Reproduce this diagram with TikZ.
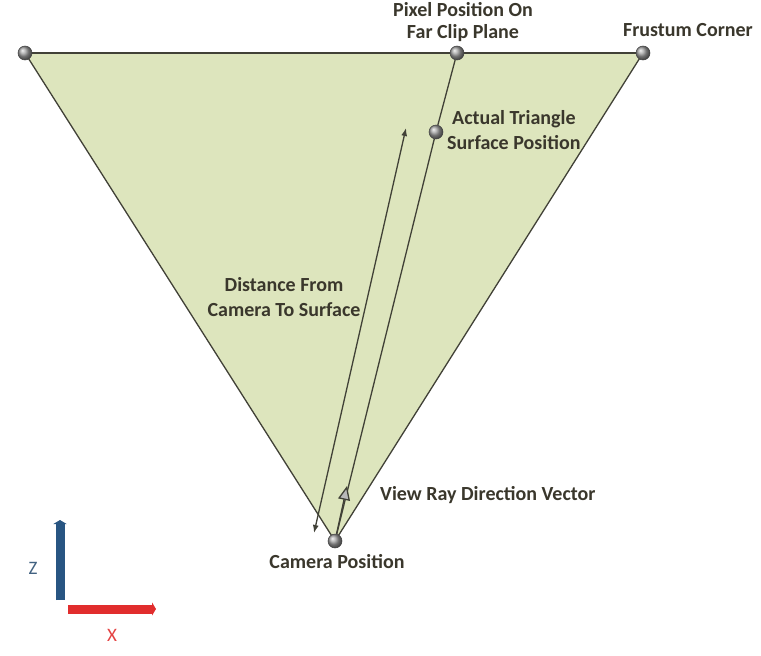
\documentclass[tikz,border=0pt]{standalone}
\usepackage{fontspec}
\setmainfont{Carlito}
\usetikzlibrary{arrows.meta}
\definecolor{frustfill}{RGB}{221,229,189}
\definecolor{edgecol}{RGB}{65,65,55}
\definecolor{txtcol}{RGB}{58,55,44}
\definecolor{zblue}{RGB}{40,85,130}
\definecolor{xred}{RGB}{225,45,45}
\tikzset{
  x=1pt, y=-1pt,
  ballpt/.style={circle, minimum size=14pt, inner sep=0pt, ball color=gray!75, draw=gray!50!black, line width=0.5pt},
  lbl/.style={text=txtcol, font=\bfseries\fontsize{20}{24.5}\selectfont, inner sep=0pt, align=center},
  edge/.style={draw=edgecol, line width=1.3pt},
}
\begin{document}
\begin{tikzpicture}
\useasboundingbox[fill=white] (0,0) rectangle (761,656);
% frustum
\coordinate (L) at (25,53);
\coordinate (R) at (643,53);
\coordinate (C) at (335,541);
\fill[frustfill] (L) -- (R) -- (C) -- cycle;
\draw[edge] (L) -- (R);
\draw[edge] (L) -- (C);
\draw[edge] (R) -- (C);
% points
\node[ballpt] (lc) at (L) {};
\node[ballpt] (fc) at (R) {};
\node[ballpt] (pp) at (457,53) {};
\node[ballpt] (cam) at (C) {};
\node[ballpt] (sp) at (436,132) {};
% view ray line
\draw[edge] (cam) -- (sp);
\draw[edge] (sp) -- (pp);
% view ray direction vector
\coordinate (vt) at (347,486);
\draw[edge, -{Triangle[length=14pt,width=12pt,fill=gray!55]}] (cam) -- (vt);
% distance arrow
\coordinate (d1) at (314,533);
\coordinate (d2) at (406,128);
\draw[edge, {Latex[length=8pt,width=6pt]}-{Latex[length=8pt,width=6pt]}] (d1) -- (d2);
% labels
\node[lbl] (tpp) at (463,22) {Pixel Position On\\[-3pt]Far Clip Plane};
\node[lbl] (tfc) at (688,30) {Frustum Corner};
\node[lbl, anchor=west] (tsp) at (447,130) {Actual Triangle\\Surface Position};
\node[lbl] (tdist) at (284,297) {Distance From\\Camera To Surface};
\node[lbl, anchor=west] (tvr) at (380,495) {View Ray Direction Vector};
\node[lbl] (tcam) at (337,562) {Camera Position};
% axes
\coordinate (o) at (60,600);
\coordinate (zt) at (60,520);
\coordinate (xs) at (68,609);
\coordinate (xt) at (156,609);
\draw[zblue, line width=9pt, -{Triangle[length=4pt,width=13pt]}] (o) -- (zt);
\draw[xred, line width=9pt, -{Triangle[length=4pt,width=13pt]}] (xs) -- (xt);
\node[text=zblue!70!gray, font=\fontsize{19}{22}\selectfont, inner sep=0pt] (zl) at (33,568) {Z};
\node[text=xred!90, font=\fontsize{19}{22}\selectfont, inner sep=0pt] (xl) at (112,635) {X};
\end{tikzpicture}
\end{document}
